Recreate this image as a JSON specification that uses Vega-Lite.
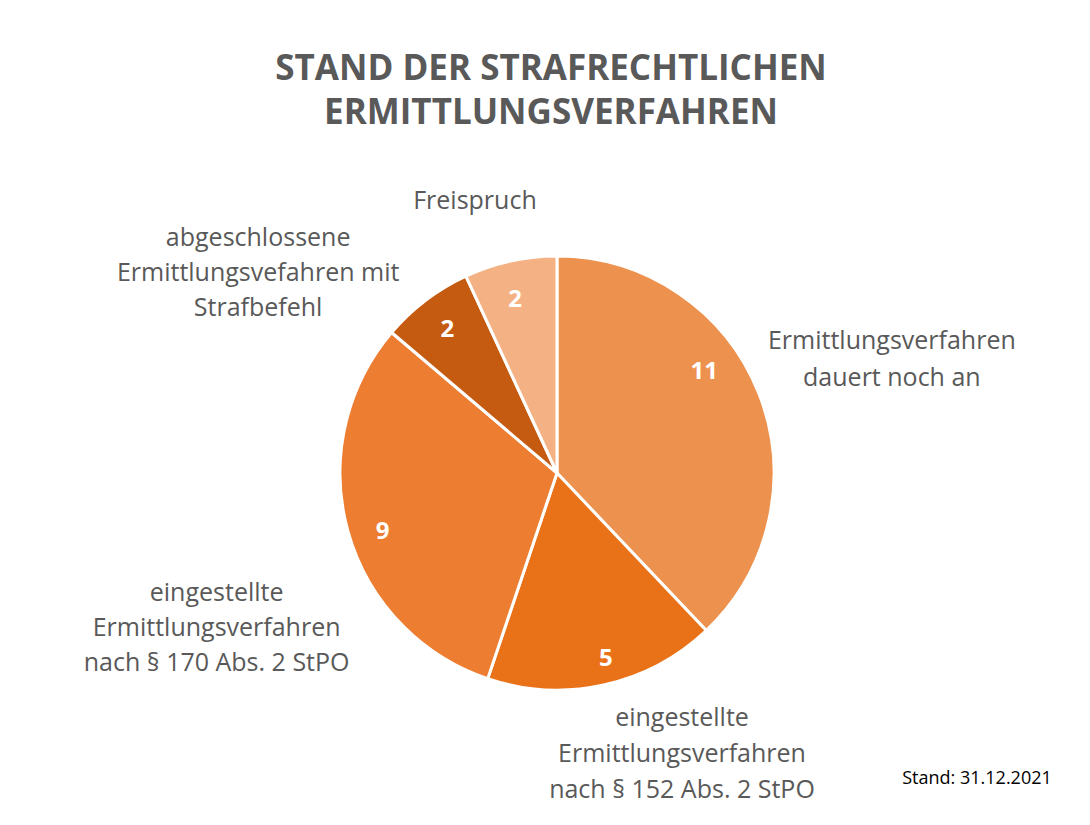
{
  "$schema": "https://vega.github.io/schema/vega-lite/v6.json",
  "autosize": {"type": "none"},
  "width": 1066,
  "height": 704,
  "padding": {"left": 24, "top": 121, "right": 0, "bottom": 0},
  "background": "white",
  "config": {"view": {"stroke": null}},
  "title": {
    "text": ["STAND DER STRAFRECHTLICHEN", "ERMITTLUNGSVERFAHREN"],
    "anchor": "middle",
    "font": "Open Sans",
    "fontWeight": "bold",
    "fontSize": 35,
    "lineHeight": 44,
    "color": "#595959",
    "offset": -25,
    "dx": -6
  },
  "data": {
    "values": [
      {"kategorie": "Ermittlungsverfahren dauert noch an", "label": "Ermittlungsverfahren\ndauert noch an", "anzahl": 11, "reihenfolge": 1},
      {"kategorie": "eingestellte Ermittlungsverfahren nach § 152 Abs. 2 StPO", "label": "eingestellte\nErmittlungsverfahren\nnach § 152 Abs. 2 StPO", "anzahl": 5, "reihenfolge": 2},
      {"kategorie": "eingestellte Ermittlungsverfahren nach § 170 Abs. 2 StPO", "label": "eingestellte\nErmittlungsverfahren\nnach § 170 Abs. 2 StPO", "anzahl": 9, "reihenfolge": 3},
      {"kategorie": "abgeschlossene Ermittlungsvefahren mit Strafbefehl", "label": "abgeschlossene\nErmittlungsvefahren mit\nStrafbefehl", "anzahl": 2, "reihenfolge": 4},
      {"kategorie": "Freispruch", "label": "Freispruch", "anzahl": 2, "reihenfolge": 5}
    ]
  },
  "encoding": {
    "theta": {"field": "anzahl", "type": "quantitative", "stack": true},
    "order": {"field": "reihenfolge", "type": "quantitative"},
    "color": {
      "field": "kategorie",
      "type": "nominal",
      "legend": null,
      "scale": {
        "domain": [
          "Ermittlungsverfahren dauert noch an",
          "eingestellte Ermittlungsverfahren nach § 152 Abs. 2 StPO",
          "eingestellte Ermittlungsverfahren nach § 170 Abs. 2 StPO",
          "abgeschlossene Ermittlungsvefahren mit Strafbefehl",
          "Freispruch"
        ],
        "range": ["#ED914F", "#E97219", "#ED7D31", "#C55A11", "#F4B183"]
      }
    }
  },
  "layer": [
    {"mark": {"type": "arc", "outerRadius": 217, "stroke": "white", "strokeWidth": 3}},
    {
      "mark": {"type": "text", "radius": 181, "dx": -21, "dy": -34, "font": "Open Sans", "fontWeight": "bold", "fontSize": 24, "align": "center", "baseline": "middle"},
      "encoding": {"color": {"value": "white"}, "text": {"condition": {"test": "datum.reihenfolge == 1", "field": "anzahl", "type": "quantitative"}, "value": ""}}
    },
    {
      "mark": {"type": "text", "radius": 181, "dx": 10, "dy": 9, "font": "Open Sans", "fontWeight": "bold", "fontSize": 24, "align": "center", "baseline": "middle"},
      "encoding": {"color": {"value": "white"}, "text": {"condition": {"test": "datum.reihenfolge == 2", "field": "anzahl", "type": "quantitative"}, "value": ""}}
    },
    {
      "mark": {"type": "text", "radius": 181, "dx": 0, "dy": 11, "font": "Open Sans", "fontWeight": "bold", "fontSize": 24, "align": "center", "baseline": "middle"},
      "encoding": {"color": {"value": "white"}, "text": {"condition": {"test": "datum.reihenfolge == 3", "field": "anzahl", "type": "quantitative"}, "value": ""}}
    },
    {
      "mark": {"type": "text", "radius": 181, "dx": 0, "dy": 1, "font": "Open Sans", "fontWeight": "bold", "fontSize": 24, "align": "center", "baseline": "middle"},
      "encoding": {"color": {"value": "white"}, "text": {"condition": {"test": "datum.reihenfolge == 4", "field": "anzahl", "type": "quantitative"}, "value": ""}}
    },
    {
      "mark": {"type": "text", "radius": 181, "dx": -3, "dy": 4, "font": "Open Sans", "fontWeight": "bold", "fontSize": 24, "align": "center", "baseline": "middle"},
      "encoding": {"color": {"value": "white"}, "text": {"condition": {"test": "datum.reihenfolge == 5", "field": "anzahl", "type": "quantitative"}, "value": ""}}
    },
    {
      "mark": {"type": "text", "radius": 354, "dx": 6, "dy": -1, "font": "Open Sans", "fontSize": 25, "lineHeight": 37, "lineBreak": "\n", "align": "center", "baseline": "middle"},
      "encoding": {"color": {"value": "#595959"}, "text": {"condition": {"test": "datum.reihenfolge == 1", "field": "label"}, "value": ""}}
    },
    {
      "mark": {"type": "text", "radius": 307, "dx": 59, "dy": -55, "font": "Open Sans", "fontSize": 25, "lineHeight": 36, "lineBreak": "\n", "align": "center", "baseline": "middle"},
      "encoding": {"color": {"value": "#595959"}, "text": {"condition": {"test": "datum.reihenfolge == 2", "field": "label"}, "value": ""}}
    },
    {
      "mark": {"type": "text", "radius": 374, "dx": 20, "dy": 20, "font": "Open Sans", "fontSize": 25, "lineHeight": 35, "lineBreak": "\n", "align": "center", "baseline": "middle"},
      "encoding": {"color": {"value": "#595959"}, "text": {"condition": {"test": "datum.reihenfolge == 3", "field": "label"}, "value": ""}}
    },
    {
      "mark": {"type": "text", "radius": 360, "dx": -81, "dy": 52, "font": "Open Sans", "fontSize": 25, "lineHeight": 35, "lineBreak": "\n", "align": "center", "baseline": "middle"},
      "encoding": {"color": {"value": "#595959"}, "text": {"condition": {"test": "datum.reihenfolge == 4", "field": "label"}, "value": ""}}
    },
    {
      "mark": {"type": "text", "radius": 284, "dx": -21, "dy": 5, "font": "Open Sans", "fontSize": 25, "lineHeight": 36, "lineBreak": "\n", "align": "center", "baseline": "middle"},
      "encoding": {"color": {"value": "#595959"}, "text": {"condition": {"test": "datum.reihenfolge == 5", "field": "label"}, "value": ""}}
    },
    {
      "data": {"values": [{"notiz": "Stand: 31.12.2021"}]},
      "mark": {"type": "text", "x": 953, "y": 658, "font": "Open Sans", "fontSize": 18, "align": "center", "baseline": "middle"},
      "encoding": {"text": {"field": "notiz"}, "color": {"value": "black"}, "theta": null, "order": null}
    }
  ]
}
